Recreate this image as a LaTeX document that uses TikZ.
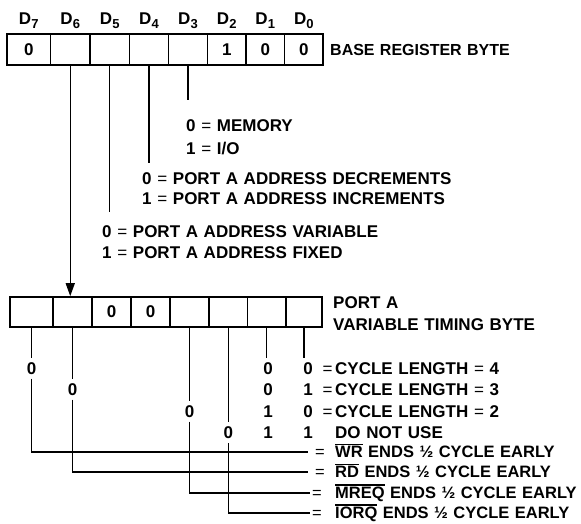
\documentclass[tikz,border=0pt]{standalone}
\usepackage{fontspec}
\setmainfont{Liberation Sans}[WordSpace=1.2]
\usetikzlibrary{arrows.meta}
\newcommand\ovl[1]{\vbox{\hrule height 1.1pt\kern 1.8pt\hbox{#1}}}
\newcommand\sbl[1]{\raisebox{-3.5pt}{\fontsize{13}{13}\selectfont #1}}
\begin{document}
\begin{tikzpicture}[x=1pt,y=-1pt,
  font=\fontsize{17}{20}\selectfont\bfseries,
  topcell/.style={draw, line width=1.6pt, minimum height=31pt, inner sep=0pt},
  botcell/.style={draw, line width=1.6pt, minimum height=30pt, inner sep=0pt},
  txt/.style={inner sep=0pt, text height=12.2pt, text depth=0pt, anchor=west},
  ctxt/.style={txt, font=\fontsize{16.5}{19}\selectfont\bfseries, text height=11.8pt},
  dig/.style={inner xsep=1pt, inner ysep=4.2pt, text height=12.2pt, text depth=0pt},
  hdr/.style={inner sep=0pt, anchor=base},
  wire/.style={line width=1.4pt}]
\useasboundingbox (0,0) rectangle (581,524);

% header labels
\node[hdr] (h7) at (28.75,25) {D\sbl{7}};
\node[hdr] (h6) at (70.25,25) {D\sbl{6}};
\node[hdr] (h5) at (109.75,25) {D\sbl{5}};
\node[hdr] (h4) at (149,25) {D\sbl{4}};
\node[hdr] (h3) at (188,25) {D\sbl{3}};
\node[hdr] (h2) at (226.75,25) {D\sbl{2}};
\node[hdr] (h1) at (265.25,25) {D\sbl{1}};
\node[hdr] (h0) at (303.75,25) {D\sbl{0}};

% base register byte
\node[topcell, minimum width=43.5pt] (t7) at (28.75,49.5) {0};
\node[topcell, minimum width=39.5pt] (t6) at (70.25,49.5) {};
\node[topcell, minimum width=39.5pt] (t5) at (109.75,49.5) {};
\node[topcell, minimum width=39pt] (t4) at (149,49.5) {};
\node[topcell, minimum width=39pt] (t3) at (188,49.5) {};
\node[topcell, minimum width=38.5pt] (t2) at (226.75,49.5) {1};
\node[topcell, minimum width=38.5pt] (t1) at (265.25,49.5) {0};
\node[topcell, minimum width=38.5pt] (t0) at (303.75,49.5) {0};
\node[txt, font=\fontsize{16}{19}\selectfont\bfseries, text height=11.5pt] (base) at (330,49.5) {BASE REGISTER BYTE};

% port A variable timing byte
\node[botcell, minimum width=43pt] (b7) at (31.5,312) {};
\node[botcell, minimum width=39pt] (b6) at (72.5,312) {};
\node[botcell, minimum width=39pt] (b5) at (111.5,312) {0};
\node[botcell, minimum width=39pt] (b4) at (150.5,312) {0};
\node[botcell, minimum width=39pt] (b3) at (189.5,312) {};
\node[botcell, minimum width=38.5pt] (b2) at (228.25,312) {};
\node[botcell, minimum width=38.5pt] (b1) at (266.75,312) {};
\node[botcell, minimum width=36pt] (b0) at (304,312) {};
\node[txt] (pa) at (333,302) {PORT A};
\node[txt] (vtb) at (333,324) {VARIABLE TIMING BYTE};

% top descriptions
\node[txt] (m1) at (186,125) {0 {\mdseries =} MEMORY};
\node[txt] (m2) at (186,148) {1 {\mdseries =} I/O};
\node[txt] (a1) at (142,178) {0 {\mdseries =} PORT A ADDRESS DECREMENTS};
\node[txt] (a2) at (142,198.5) {1 {\mdseries =} PORT A ADDRESS INCREMENTS};
\node[txt] (f1) at (102,231) {0 {\mdseries =} PORT A ADDRESS VARIABLE};
\node[txt] (f2) at (102,252) {1 {\mdseries =} PORT A ADDRESS FIXED};

\coordinate (e3) at (188,100);
\coordinate (e4) at (149,163);
\coordinate (e5) at (109.75,212);
\draw[wire] (t3.south) -- (t3.south |- e3);
\draw[wire] (t4.south) -- (t4.south |- e4);
\draw[wire] (t5.south) -- (t5.south |- e5);
\draw[wire, -{Triangle[length=13pt,width=9pt]}] (t6.south) -- (t6.south |- b6.north);

% digit columns
\node[dig] (z7) at (31.5,368) {0};
\node[dig] (z6) at (72.5,389) {0};
\node[dig] (z3) at (189.5,411) {0};
\node[dig] (z2) at (228.25,432.5) {0};
\node[dig] (d1a) at (268,368) {0};
\node[dig] (d1b) at (268,389) {0};
\node[dig] (d1c) at (268,411) {1};
\node[dig] (d1d) at (268,432.5) {1};
\node[dig] (d0a) at (308,368) {0};
\node[dig] (d0b) at (308,389) {1};
\node[dig] (d0c) at (308,411) {0};
\node[dig] (d0d) at (308,432.5) {1};

% bottom descriptions
\node[txt] (c1) at (322.5,368) {\makebox[12.5pt][l]{\mdseries =}CYCLE LENGTH {\mdseries =} 4};
\node[txt] (c2) at (322.5,389) {\makebox[12.5pt][l]{\mdseries =}CYCLE LENGTH {\mdseries =} 3};
\node[txt] (c3) at (322.5,411) {\makebox[12.5pt][l]{\mdseries =}CYCLE LENGTH {\mdseries =} 2};
\node[txt] (c4) at (335,432.5) {DO NOT USE};
\node[ctxt] (w1) at (315,452) {\makebox[20pt][l]{\mdseries =}\ovl{WR} ENDS ½ CYCLE EARLY};
\node[ctxt] (w2) at (315,472) {\makebox[20pt][l]{\mdseries =}\ovl{RD} ENDS ½ CYCLE EARLY};
\node[ctxt] (w3) at (312,493) {\makebox[23pt][l]{\mdseries =}\ovl{MREQ} ENDS ½ CYCLE EARLY};
\node[ctxt] (w4) at (312,513) {\makebox[23pt][l]{\mdseries =}\ovl{IORQ} ENDS ½ CYCLE EARLY};

% connectors from timing byte
\draw[wire] (b7.south) -- (z7.north);
\draw[wire] (z7.south) |- ([xshift=-7pt]w1.west);
\draw[wire] (b6.south) -- (z6.north);
\draw[wire] (z6.south) |- ([xshift=-7pt]w2.west);
\draw[wire] (b3.south) -- (z3.north);
\draw[wire] (z3.south) |- ([xshift=-2pt]w3.west);
\draw[wire] (b2.south) -- (z2.north);
\draw[wire] (z2.south) |- ([xshift=-2pt]w4.west);
\draw[wire] (b1.south) -- (b1.south |- d1a.north);
\draw[wire] (b0.south) -- (b0.south |- d0a.north);
\end{tikzpicture}
\end{document}
